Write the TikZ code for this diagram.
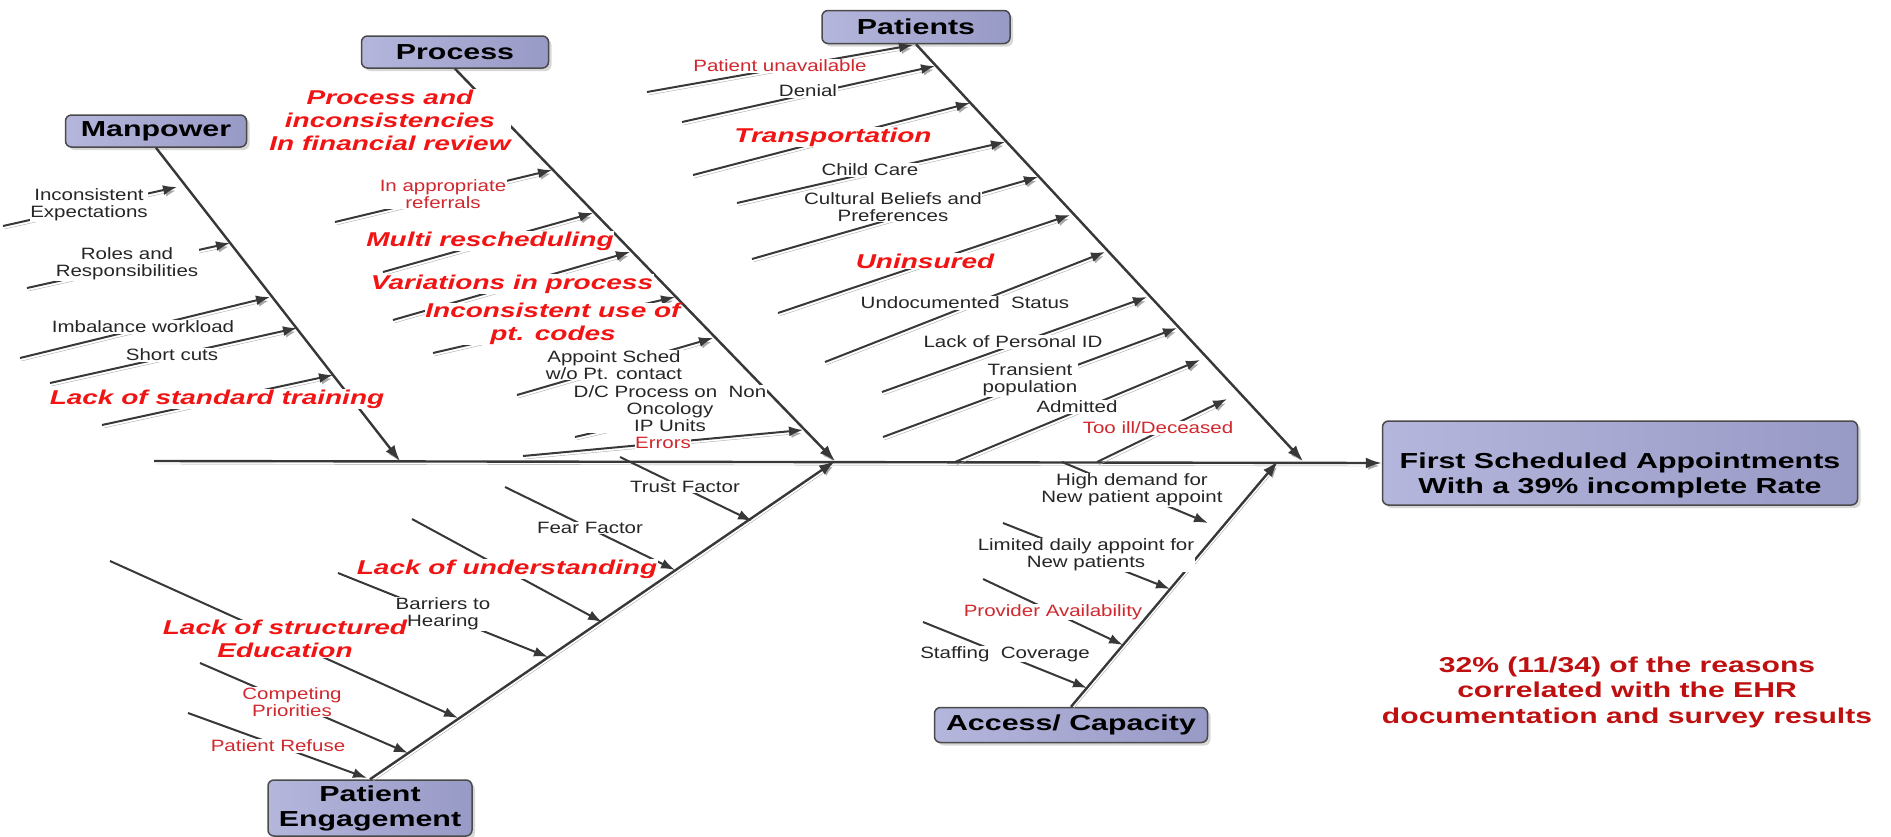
\documentclass[tikz,border=0pt]{standalone}
\usepackage{fontspec}
\setmainfont{Liberation Sans}[FakeStretch=1.25]
\newfontfamily\hdfont{Liberation Sans}[FakeStretch=1.4]
\usetikzlibrary{arrows.meta,shadows}
\definecolor{lc}{HTML}{383838}
\definecolor{shc}{HTML}{A8A8A8}
\definecolor{boxl}{HTML}{B4B6DC}
\definecolor{boxr}{HTML}{989AC6}
\definecolor{brd}{HTML}{4A4A4A}
\definecolor{rbold}{HTML}{F01414}
\definecolor{rsmall}{HTML}{D0282E}
\definecolor{rfoot}{HTML}{BE1010}
\definecolor{txt}{HTML}{262626}
\tikzset{
  shline/.style={preaction={draw=shc, transform canvas={shift={(1.5pt,-3pt)}}}},
  bone/.style={draw=lc, line width=2.4pt, -{Latex[length=16pt,width=11pt]}, shline},
  sub/.style={draw=lc, line width=2pt, -{Latex[length=14pt,width=10pt]}, shline},
  subd/.style={draw=lc, line width=2pt, -{Latex[length=14pt,width=10pt]}},
  lab/.style={fill=white, inner sep=0.5pt, align=center, text=txt, font=\fontsize{16.4}{17}\selectfont},
  labr/.style={lab, text=rsmall},
  labb/.style={lab, text=rbold, font=\hdfont\bfseries\itshape\fontsize{20}{23}\selectfont},
  cat/.style={draw=brd, line width=1.5pt, rounded corners=6pt, left color=boxl, right color=boxr,
    drop shadow={shadow xshift=3pt, shadow yshift=-3pt, fill=black!30},
    font=\hdfont\bfseries\fontsize{21.7}{25}\selectfont, text=black, align=center, inner sep=0pt},
  cattext/.style={font=\hdfont\bfseries\fontsize{21.7}{25}\selectfont, text=black, align=center, inner sep=0pt},
  foot/.style={text=rfoot, font=\hdfont\bfseries\fontsize{21.5}{25.5}\selectfont, align=center}
}
\newcommand\fbcause[7]{%
  \coordinate (#1t) at (#2);
  \coordinate (#1h) at (#3);
  \draw[#5] (#1t) -- (#1h);
  \node[#6] (#1l) at (#4) {#7};
}
\begin{document}
\begin{tikzpicture}[x=1pt,y=-1pt]
\useasboundingbox (0,0) rectangle (1891,836);
% category boxes
\node[cat, minimum width=181pt, minimum height=32pt] (mp) at (156,131) {Manpower};
\node[cat, minimum width=187pt, minimum height=32pt] (pr) at (455,52) {Process};
\node[cat, minimum width=188pt, minimum height=33pt] (pa) at (916,27) {Patients};
\node[cat, minimum width=204pt, minimum height=56pt] (pe) at (370,808) {Patient\\Engagement};
\node[cat, minimum width=273pt, minimum height=35pt] (ac) at (1071,725) {Access/ Capacity};
\node[cat, minimum width=475pt, minimum height=84pt] (hd) at (1620,463) {};
\node[cattext] (hdt) at (1620,475) {First Scheduled Appointments\\With a 39\% incomplete Rate};
% spine and bones
\coordinate (sp0) at (154,461);
\coordinate (mpE) at (400,461);
\coordinate (prE) at (835,461);
\coordinate (paE) at (1303,461);
\coordinate (acE) at (1278,461);
\draw[bone] (sp0) -- (hd.west);
\draw[bone] (mp.south) -- (mpE);
\draw[bone] (pr.south) -- (prE);
\draw[bone] (pa.south) -- (paE);
\draw[bone] (pe.north) -- (prE);
\draw[bone] (ac.north) -- (acE);
% Manpower
\fbcause{mp1}{3,226}{177,187}{89,205}{sub}{lab}{Inconsistent\\Expectations}
\fbcause{mp2}{27,288}{230,243}{127,264}{sub}{lab}{Roles and\\Responsibilities}
\fbcause{mp3}{20,358}{270,297}{143,327}{sub}{lab}{Imbalance workload}
\fbcause{mp4}{50,383}{297,328}{172,355}{sub}{lab}{Short cuts}
\fbcause{mp5}{102,425}{333,375}{217,399}{sub}{labb}{Lack of standard training}
% Process
\fbcause{pr1}{335,222}{552,170}{443,194}{sub}{labr}{In appropriate\\referrals}
\fbcause{pr2}{383,272}{593,213}{490,241}{sub}{labb}{Multi rescheduling}
\fbcause{pr3}{393,320}{630,252}{512,284}{sub}{labb}{Variations in process}
\fbcause{pr4}{433,353}{675,297}{553,324}{sub}{labb}{Inconsistent use of\\pt. codes}
\fbcause{pr5}{517,395}{713,338}{614,365}{sub}{lab}{Appoint Sched\\w/o Pt. contact}
\fbcause{pr6}{575,437}{768,392}{670,409}{sub}{lab}{D/C Process on\ \ Non\\Oncology\\IP Units}
\fbcause{pr7}{523,456}{803,430}{663,443}{sub}{labr}{Errors}
\node[labb] (prT) at (390,120) {Process and\\inconsistencies\\In financial review};
% Patients
\fbcause{pa1}{647,92}{913,45}{780,66}{sub}{labr}{Patient unavailable}
\fbcause{pa2}{682,122}{935,66}{808,91}{sub}{lab}{Denial}
\fbcause{pa3}{693,175}{970,103}{833,137}{sub}{labb}{Transportation}
\fbcause{pa4}{737,203}{1005,142}{870,170}{sub}{lab}{Child Care}
\fbcause{pa5}{752,259}{1038,177}{893,207}{sub}{lab}{Cultural Beliefs and\\Preferences}
\fbcause{pa6}{778,313}{1070,215}{925,261}{sub}{labb}{Uninsured}
\fbcause{pa7}{825,362}{1105,252}{965,303}{sub}{lab}{Undocumented\ \ Status}
\fbcause{pa8}{882,392}{1147,297}{1013,342}{sub}{lab}{Lack of Personal ID}
\fbcause{pa9}{883,437}{1177,328}{1030,380}{sub}{lab}{Transient\\population}
\fbcause{pa10}{955,462}{1200,360}{1077,407}{sub}{lab}{Admitted}
\fbcause{pa11}{1097,462}{1227,399}{1158,428}{sub}{labr}{Too ill/Deceased}
% Access / Capacity
\fbcause{ac1}{1062,462}{1208,523}{1132,490}{subd}{lab}{High demand for\\New patient appoint}
\fbcause{ac2}{1003,523}{1170,589}{1086,555}{subd}{lab}{Limited daily appoint for\\New patients}
\fbcause{ac3}{983,579}{1123,645}{1053,612}{subd}{labr}{Provider Availability}
\fbcause{ac4}{923,622}{1087,688}{1005,654}{subd}{lab}{Staffing\ \ Coverage}
% Patient Engagement
\fbcause{pe1}{620,457}{752,521}{685,487}{subd}{lab}{Trust Factor}
\fbcause{pe2}{505,487}{675,570}{590,528}{subd}{lab}{Fear Factor}
\fbcause{pe4}{338,573}{548,657}{443,614}{subd}{lab}{Barriers to\\Hearing}
\fbcause{pe3}{412,519}{602,622}{507,569}{subd}{labb}{Lack of understanding}
\fbcause{pe5}{110,561}{458,718}{285,639}{subd}{labb}{Lack of structured\\Education}
\fbcause{pe6}{200,663}{408,753}{292,702}{subd}{labr}{Competing\\Priorities}
\fbcause{pe7}{188,713}{367,778}{278,746}{subd}{labr}{Patient Refuse}
% footer
\node[foot] (ft) at (1627,692) {32\% (11/34) of the reasons\\correlated with the EHR\\documentation and survey results};
\end{tikzpicture}
\end{document}
